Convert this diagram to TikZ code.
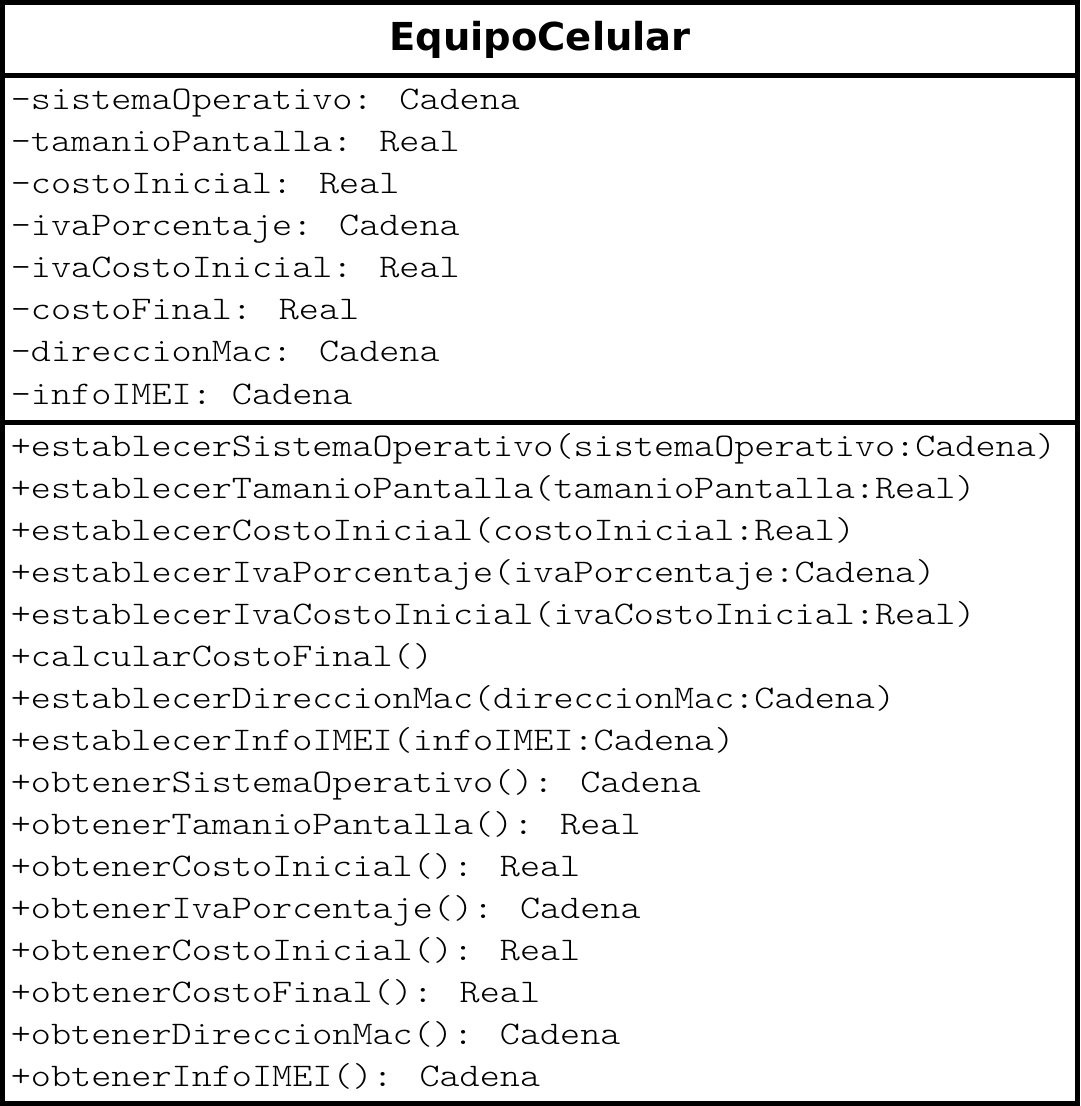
\documentclass[tikz,border=0pt]{standalone}
\usepackage{fontspec}
\newfontfamily\titlefont{DejaVu Sans}
\begin{document}
\begin{tikzpicture}
[x=0.5pt,y=-0.5pt,line width=2.5pt,%
  every node/.style={inner sep=0pt,anchor=base west},%
  member/.style={xscale=1.16,transform shape,
    font=\ttfamily\fontseries{l}\fontsize{16.5}{20}\selectfont},%
  classname/.style={anchor=base,font=\titlefont\bfseries\fontsize{19.25}{23}\selectfont}]
\useasboundingbox (0,0) rectangle (1080,1106);
\draw (2.5,2.5) rectangle (1077,1103);
\draw (2.5,75.5) -- (1077,75.5);
\draw (2.5,422) -- (1077,422);
\node[classname] (name) at (540,51) {EquipoCelular};
% atributos
\foreach \t [count=\i] in {{-sistemaOperativo: Cadena},{-tamanioPantalla: Real},
  {-costoInicial: Real},{-ivaPorcentaje: Cadena},{-ivaCostoInicial: Real},
  {-costoFinal: Real},{-direccionMac: Cadena},{-infoIMEI: Cadena}}
  \node[member] (attr\i) at (8,{110+(\i-1)*42}) {\t};
% metodos
\foreach \t [count=\i] in {{+establecerSistemaOperativo(sistemaOperativo:Cadena)},
  {+establecerTamanioPantalla(tamanioPantalla:Real)},
  {+establecerCostoInicial(costoInicial:Real)},
  {+establecerIvaPorcentaje(ivaPorcentaje:Cadena)},
  {+establecerIvaCostoInicial(ivaCostoInicial:Real)},
  {+calcularCostoFinal()},
  {+establecerDireccionMac(direccionMac:Cadena)},
  {+establecerInfoIMEI(infoIMEI:Cadena)},
  {+obtenerSistemaOperativo(): Cadena},
  {+obtenerTamanioPantalla(): Real},
  {+obtenerCostoInicial(): Real},
  {+obtenerIvaPorcentaje(): Cadena},
  {+obtenerCostoInicial(): Real},
  {+obtenerCostoFinal(): Real},
  {+obtenerDireccionMac(): Cadena},
  {+obtenerInfoIMEI(): Cadena}}
  \node[member] (op\i) at (8,{456+(\i-1)*42}) {\t};
\end{tikzpicture}
\end{document}
